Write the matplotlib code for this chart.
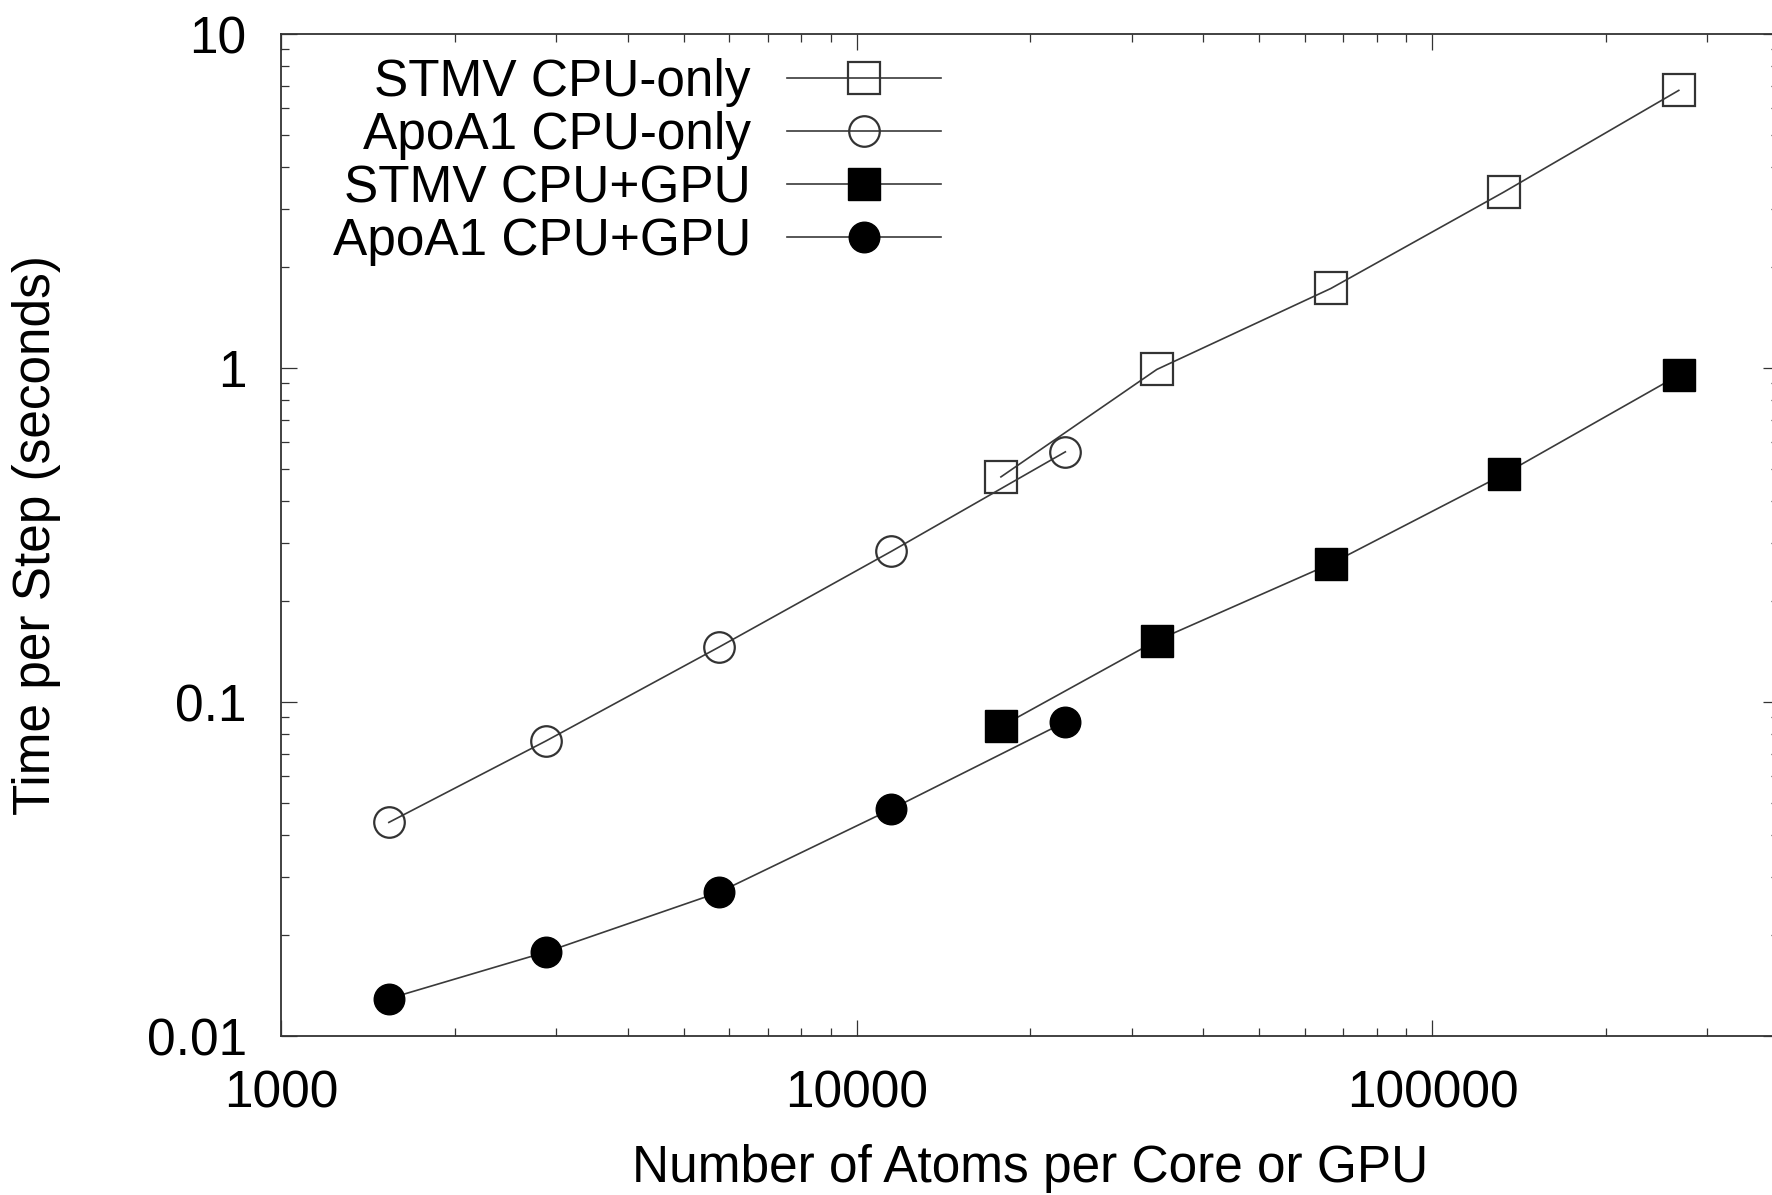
import matplotlib.pyplot as plt
from matplotlib.ticker import LogLocator, FixedLocator, FixedFormatter, NullFormatter

plt.rcParams['font.family'] = ['Liberation Sans', 'DejaVu Sans']

# atoms per core / GPU
stmv_atoms = [17790, 33190, 66580, 132900, 267900]
apoa1_atoms = [1537, 2880, 5750, 11480, 23020]

# time per step (s)
stmv_cpu = [0.472, 0.99, 1.73, 3.36, 6.78]
apoa1_cpu = [0.0436, 0.0764, 0.1458, 0.2826, 0.561]
stmv_gpu = [0.0845, 0.1528, 0.2594, 0.480, 0.952]
apoa1_gpu = [0.01294, 0.01783, 0.0269, 0.0478, 0.0872]

x_ticks = [1000, 10000, 100000]
x_tick_labels = ["1000", "10000", "100000"]
y_ticks = [0.01, 0.1, 1, 10]
y_tick_labels = ["0.01", "0.1", "1", "10"]

W, H = 1772, 1195
fig = plt.figure(figsize=(W / 100, H / 100), dpi=100)
# axes runs a few pixels past the right edge, as in the original crop
ax = fig.add_axes([281.4 / W, (H - 1036) / H, (1779 - 281.4) / W, (1036 - 34) / H])

line_col = '#3a3a3a'
fs = 37

ax.plot(stmv_atoms, stmv_cpu, color=line_col, lw=1.2, marker='s', ms=23,
        mfc='none', mec='#333333', mew=1.6, label='STMV CPU-only')
ax.plot(apoa1_atoms, apoa1_cpu, color=line_col, lw=1.2, marker='o', ms=22,
        mfc='none', mec='#333333', mew=1.6, label='ApoA1 CPU-only')
ax.plot(stmv_atoms, stmv_gpu, color=line_col, lw=1.2, marker='s', ms=23,
        mfc='black', mec='black', label='STMV CPU+GPU')
ax.plot(apoa1_atoms, apoa1_gpu, color=line_col, lw=1.2, marker='o', ms=22,
        mfc='black', mec='black', label='ApoA1 CPU+GPU')

ax.set_xscale('log')
ax.set_yscale('log')
ax.set_xlim(1000, 400000)
ax.set_ylim(0.01, 10)

ax.xaxis.set_major_locator(FixedLocator(x_ticks))
ax.xaxis.set_major_formatter(FixedFormatter(x_tick_labels))
ax.yaxis.set_major_locator(FixedLocator(y_ticks))
ax.yaxis.set_major_formatter(FixedFormatter(y_tick_labels))
ax.xaxis.set_minor_locator(LogLocator(base=10, subs=range(2, 10), numticks=20))
ax.yaxis.set_minor_locator(LogLocator(base=10, subs=range(2, 10), numticks=20))
ax.xaxis.set_minor_formatter(NullFormatter())
ax.yaxis.set_minor_formatter(NullFormatter())

ax.tick_params(which='both', direction='in', top=True, right=True, colors='#333333',
               labelcolor='black', labelsize=fs)
ax.tick_params(which='major', length=11.5, width=0.9)
ax.tick_params(which='minor', length=5.8, width=0.9)
ax.tick_params(axis='x', which='major', pad=24)
ax.tick_params(axis='y', which='major', pad=25)
for s in ax.spines.values():
    s.set_linewidth(1.3)
    s.set_color('#333333')

ax.set_xlabel('Number of Atoms per Core or GPU', fontsize=fs)
ax.set_ylabel('Time per Step (seconds)', fontsize=fs)
ax.xaxis.set_label_coords(0.5, -0.108)
ax.yaxis.set_label_coords(-0.1475, 0.5)

ax.legend(loc='upper right', bbox_to_anchor=(0.4406, 0.976), frameon=False,
          markerfirst=False, fontsize=fs, handlelength=3.0, handletextpad=0.7,
          labelspacing=0.08, borderpad=0, borderaxespad=0)

fig.savefig('out.png', dpi=100)
